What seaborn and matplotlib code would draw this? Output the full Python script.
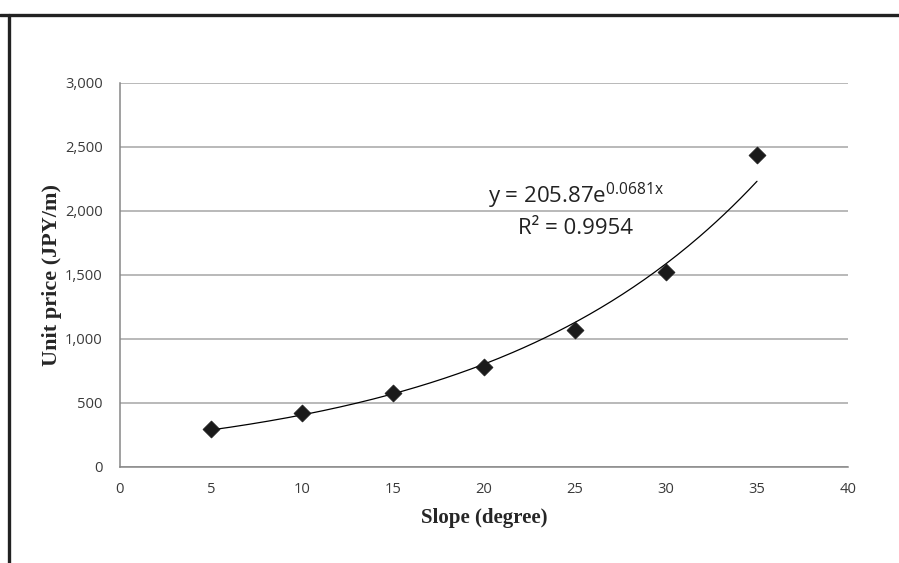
import numpy as np
import pandas as pd
import matplotlib
matplotlib.use("Agg")
import matplotlib.pyplot as plt
from matplotlib.lines import Line2D
import seaborn as sns

# data
slope_deg = [5, 10, 15, 20, 25, 30, 35]
unit_price = [294, 419, 576, 779, 1070, 1526, 2437]
x_ticks = [0, 5, 10, 15, 20, 25, 30, 35, 40]
y_ticks = [0, 500, 1000, 1500, 2000, 2500, 3000]
y_tick_labels = ["0", "500", "1,000", "1,500", "2,000", "2,500", "3,000"]

# exponential trendline as printed on the chart
trend_a = 205.87
trend_b = 0.0681
trend_r2 = 0.9954

sns.set_style("white")
plt.rcParams["font.family"] = ["Open Sans", "DejaVu Sans"]
plt.rcParams["mathtext.fontset"] = "custom"
plt.rcParams["mathtext.rm"] = "Open Sans"

df = pd.DataFrame({"slope": slope_deg, "price": unit_price})
trend_x = np.linspace(min(slope_deg), max(slope_deg), 200)
trend = pd.DataFrame({"slope": trend_x, "price": trend_a * np.exp(trend_b * trend_x)})

fig = plt.figure(figsize=(8.99, 5.63), dpi=100)
ax = fig.add_axes([120 / 899, 1 - 467 / 563, 728 / 899, 384 / 563])

sns.lineplot(data=trend, x="slope", y="price", color="black", linewidth=0.9, ax=ax)
sns.scatterplot(data=df, x="slope", y="price", marker="D", s=75, color="#1a1a1a",
                edgecolor="#1a1a1a", linewidth=0.5, zorder=5, ax=ax)

ax.set_xlim(0, 40)
ax.set_ylim(0, 3000)
ax.set_xticks(x_ticks)
ax.set_yticks(y_ticks)
ax.set_yticklabels(y_tick_labels)

ax.yaxis.grid(True, color="#a6a6a6", linewidth=1.1)
ax.set_axisbelow(True)
for side in ["top", "right"]:
    ax.spines[side].set_visible(False)
for side in ["left", "bottom"]:
    ax.spines[side].set_color("#868686")
    ax.spines[side].set_linewidth(1.1)

ax.tick_params(axis="both", direction="out", length=4.5, width=1.0, color="#868686",
               labelsize=10.6, labelcolor="#3a3a3a")
ax.tick_params(axis="y", pad=8)
ax.tick_params(axis="x", pad=6)

ax.set_xlabel("Slope (degree)", family="Liberation Serif", fontweight="bold",
              fontsize=15, labelpad=8)
ax.set_ylabel("Unit price (JPY/m)", family="Liberation Serif", fontweight="bold",
              fontsize=16, labelpad=2)

ax.text(576 / 899, 1 - 203 / 563, f"y = {trend_a}e$^{{{trend_b}\\mathrm{{x}}}}$",
        transform=fig.transFigure, ha="center", va="baseline", fontsize=16, color="#222222")
ax.text(576 / 899, 1 - 234 / 563, f"R² = {trend_r2}",
        transform=fig.transFigure, ha="center", va="baseline", fontsize=16, color="#222222")

# frame pieces visible around the figure
fig.add_artist(Line2D([0, 1], [1 - 15 / 563, 1 - 15 / 563], transform=fig.transFigure,
                      color="#222222", linewidth=2.4))
fig.add_artist(Line2D([9 / 899, 9 / 899], [0, 1 - 15 / 563], transform=fig.transFigure,
                      color="#222222", linewidth=2.4))

fig.savefig("out.png", dpi=100, facecolor="white")
